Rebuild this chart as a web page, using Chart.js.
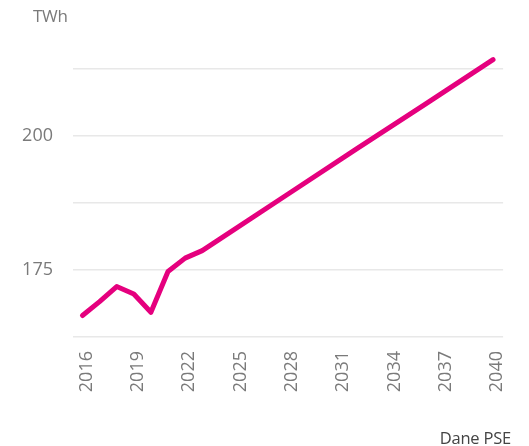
<!DOCTYPE html>
<html>
<head>
<meta charset="utf-8">
<script src="https://cdn.jsdelivr.net/npm/chart.js@4"></script>
<style>
  html, body { margin: 0; padding: 0; background: #fff; }
  #wrap { position: relative; width: 529px; height: 446px; font-family: "Open Sans", sans-serif; }
  canvas { position: absolute; left: 0; top: 0; }
  #unit { position: absolute; left: 33px; top: 4px; font-size: 17px; color: #7a7a7a; letter-spacing: -0.3px; }
  #src { position: absolute; right: 18px; top: 426px; font-size: 16.5px; color: #444; letter-spacing: -0.2px; }
</style>
</head>
<body>
<div id="wrap">
  <canvas id="c" width="529" height="446"></canvas>
  <div id="unit">TWh</div>
  <div id="src">Dane PSE</div>
</div>
<script>
const years  = [2016, 2017, 2018, 2019, 2020, 2021, 2022, 2023, 2024, 2028, 2032, 2036, 2040];
const demand = [166.5, 169.1, 171.9, 170.5, 167.1, 174.7, 177.2, 178.6, 180.7, 189.1, 197.5, 205.8, 214.2];
const xTicks = [2016, 2019, 2022, 2025, 2028, 2031, 2034, 2037, 2040];
const yGrid  = [162.5, 175, 187.5, 200, 212.5];
const yLabels = [175, 200];

new Chart(document.getElementById('c'), {
  type: 'line',
  data: {
    datasets: [{
      data: years.map((y, i) => ({ x: y, y: demand[i] })),
      borderColor: '#e5007e',
      borderWidth: 5,
      borderCapStyle: 'round',
      borderJoinStyle: 'round',
      pointRadius: 0,
      tension: 0,
      fill: false
    }]
  },
  options: {
    responsive: false,
    animation: false,
    layout: { padding: { top: 30, right: 16, left: 0, bottom: 0 } },
    plugins: { legend: { display: false }, tooltip: { enabled: false } },
    scales: {
      x: {
        type: 'linear',
        min: 2015.446,
        max: 2040.59,
        afterBuildTicks: s => { s.ticks = xTicks.map(v => ({ value: v })); },
        afterFit: s => { s.height = 109; },
        grid: { display: false, drawTicks: false },
        border: { display: false },
        ticks: {
          minRotation: 90, maxRotation: 90,
          padding: 14,
          labelOffset: 4,
          color: '#7a7a7a',
          font: { family: 'Open Sans', size: 18 },
          callback: v => String(v)
        }
      },
      y: {
        min: 162.5,
        max: 219.56,
        afterBuildTicks: s => { s.ticks = yGrid.map(v => ({ value: v })); },
        afterFit: s => { s.width = 73; },
        grid: { color: '#e8e8e8', lineWidth: 1.5, drawTicks: false },
        border: { display: false },
        ticks: {
          padding: 20,
          color: '#7a7a7a',
          font: { family: 'Open Sans', size: 18 },
          callback: v => yLabels.includes(v) ? String(v) : ''
        }
      }
    }
  }
});
</script>
</body>
</html>
